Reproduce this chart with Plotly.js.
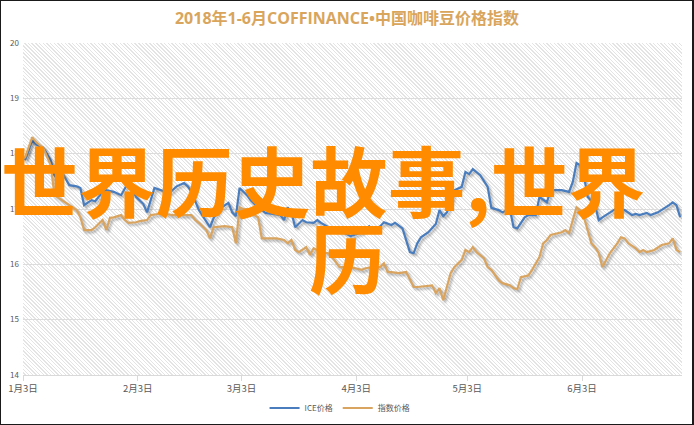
<!DOCTYPE html>
<html>
<head>
<meta charset="utf-8">
<script src="https://cdn.plot.ly/plotly-3.0.1.min.js"></script>
<style>
  html, body { margin: 0; padding: 0; background: #ffffff; }
  #wrap { position: relative; width: 694px; height: 425px; overflow: hidden; background: #fff; }
  #hatch { position: absolute; left: 23px; top: 43px; width: 659px; height: 332px;
    background: repeating-linear-gradient(45deg, #ffffff 0px, #ffffff 1.2px, #e4e4e4 1.2px, #e4e4e4 2.2px, #ffffff 2.2px, #ffffff 2.6px); }
  #chart { position: absolute; left: 0; top: 0; width: 694px; height: 425px; }
  #frame { position: absolute; left: 0; top: 0; width: 694px; height: 425px; box-sizing: border-box;
    border: 1px solid #1a1a1a; border-right-width: 2px; pointer-events: none; z-index: 5; }
  .wm { position: absolute; white-space: nowrap; color: #ff8c00; font-family: "Noto Sans CJK SC", sans-serif;
    font-weight: 700; font-size: 77px; line-height: 77px; z-index: 4; pointer-events: none; }
  #chart .scatterlayer .trace path.js-line { filter: drop-shadow(2px 2px 1.2px rgba(0,0,0,0.3)); }
</style>
</head>
<body>
<div id="wrap">
  <div id="hatch"></div>
  <div id="chart"></div>
  <div class="wm" id="wm1" style="left:1px; top:140px; letter-spacing:0.4px;">世界历史故事,世界</div>
  <div class="wm" id="wm2" style="left:309px; top:217px;">历</div>
  <div id="frame"></div>
</div>
<script>
// ---- data ----
const chartTitle = "2018年1-6月COFFINANCE•中国咖啡豆价格指数";
const seriesNames = ["ICE价格", "指数价格"];

const iceDates = [
 "01-03","01-05","01-06","01-08","01-10","01-11","01-12","01-13","01-15","01-17","01-18","01-19","01-21","01-22","01-24","01-25","01-27","01-29","01-31",
 "02-02","02-04","02-05","02-07","02-09","02-11","02-13","02-15","02-16","02-17","02-19","02-22","02-23","02-25","02-27","02-28",
 "03-01","03-02","03-04","03-05","03-07","03-09","03-11","03-13","03-14","03-15","03-16","03-17","03-19","03-20","03-22","03-23","03-24","03-26","03-28","03-30",
 "04-01","04-02","04-04","04-06","04-07","04-09","04-10","04-12","04-13","04-15","04-16","04-17","04-18","04-19","04-20","04-22","04-24","04-25","04-26","04-27","04-28","04-29",
 "05-01","05-02","05-03","05-04","05-06","05-08","05-09","05-11","05-12","05-14","05-15","05-16","05-18","05-19","05-21","05-22","05-24","05-25","05-26","05-28","05-30","05-31",
 "06-01","06-02","06-03","06-04","06-06","06-07","06-08","06-10","06-12","06-14","06-16","06-17","06-18","06-20","06-21","06-23","06-25","06-26","06-27","06-28","06-29"
];
const iceValues = [
 17.88,18.25,18.17,18.10,17.88,17.61,17.52,17.67,17.43,17.41,17.38,17.07,17.16,17.14,17.31,17.34,17.31,17.25,17.49,
 17.22,17.09,16.94,17.38,17.34,17.29,17.41,17.47,17.41,17.31,16.98,16.67,16.84,17.02,17.11,16.94,
 16.87,17.38,17.25,17.16,17.03,16.93,16.91,16.89,16.80,17.03,16.94,16.67,16.80,16.76,16.75,16.80,16.75,16.67,16.62,16.58,
 16.51,16.53,16.58,16.69,16.62,16.69,16.76,16.71,16.75,16.65,16.44,16.22,16.20,16.38,16.49,16.58,16.73,16.98,16.87,16.94,17.11,17.34,
 17.40,17.67,17.63,17.72,17.61,17.40,17.02,16.98,16.94,17.00,16.67,16.65,16.85,16.89,16.89,17.22,17.12,17.34,17.34,17.34,17.31,17.49,
 17.83,17.79,17.61,17.22,17.07,16.80,16.85,16.94,17.02,16.98,16.89,16.91,16.89,16.93,16.89,16.94,17.02,17.07,17.12,17.07,16.85
];

const idxDates = [
 "01-03","01-05","01-06","01-08","01-10","01-11","01-13","01-15","01-17","01-18","01-19","01-21","01-22","01-24","01-25","01-26","01-27","01-29","01-30","01-31",
 "02-02","02-03","02-05","02-06","02-08","02-10","02-12","02-14","02-17","02-18","02-19","02-21","02-22","02-23","02-25","02-26","02-28",
 "03-01","03-02","03-03","03-04","03-05","03-07","03-08","03-09","03-12","03-14","03-15","03-16","03-17","03-18","03-20","03-21","03-22","03-24","03-26","03-27","03-29","03-30",
 "04-01","04-04","04-05","04-07","04-09","04-10","04-11","04-12","04-14","04-16","04-17","04-18","04-19","04-22","04-23","04-24","04-25","04-26","04-27","04-28","04-29",
 "05-01","05-02","05-03","05-04","05-05","05-07","05-08","05-09","05-11","05-12","05-14","05-15","05-16","05-17","05-19","05-20","05-22","05-23","05-24","05-25","05-27","05-28","05-29","05-30","05-31",
 "06-01","06-02","06-03","06-04","06-05","06-06","06-07","06-08","06-09","06-10","06-12","06-13","06-14","06-15","06-17","06-18","06-19","06-20","06-22","06-24","06-26","06-27","06-28","06-29"
];
const idxValues = [
 17.92,18.30,18.21,18.10,17.79,17.25,17.16,17.07,16.98,16.85,16.62,16.62,16.67,16.80,16.62,16.84,16.85,16.89,16.80,16.75,
 16.76,16.78,16.80,16.89,16.91,16.91,16.89,16.89,16.89,16.80,16.75,16.62,16.47,16.67,16.69,16.69,16.67,
 16.38,17.03,17.00,17.00,16.93,16.85,16.47,16.47,16.47,16.44,16.38,16.44,16.26,16.22,16.31,16.17,16.29,16.22,16.20,16.13,15.95,15.95,
 15.95,15.90,15.93,15.95,15.95,16.02,15.86,15.86,15.84,15.86,15.71,15.59,15.59,15.62,15.62,15.48,15.57,15.35,15.59,15.84,15.95,
 16.08,16.26,16.22,16.31,16.22,16.11,15.95,15.90,15.71,15.66,15.62,15.57,15.55,15.77,15.80,15.90,16.13,16.38,16.44,16.53,16.56,16.58,16.62,16.56,16.80,
 17.03,16.98,16.85,16.62,16.38,16.31,16.20,15.95,16.08,16.20,16.38,16.49,16.47,16.38,16.29,16.22,16.26,16.22,16.26,16.35,16.38,16.47,16.26,16.22
];

const xTickDates = ["2018-01-03","2018-02-03","2018-03-03","2018-04-03","2018-05-03","2018-06-03"];
const xTickLabels = ["1月3日","2月3日","3月3日","4月3日","5月3日","6月3日"];
const yTickValues = [14,15,16,17,18,19,20];

// ---- build chart ----
const toDate = d => "2018-" + d + " 12:00";
const traces = [
  { type: "scatter", mode: "lines", name: seriesNames[0], x: iceDates.map(toDate), y: iceValues,
    line: { color: "#4a7dbd", width: 2.2 }, hoverinfo: "skip" },
  { type: "scatter", mode: "lines", name: seriesNames[1], x: idxDates.map(toDate), y: idxValues,
    line: { color: "#d9a45f", width: 2.2 }, hoverinfo: "skip" }
];

const layout = {
  width: 694, height: 425,
  margin: { l: 23, r: 12, t: 43, b: 50, autoexpand: false },
  paper_bgcolor: "rgba(0,0,0,0)",
  plot_bgcolor: "rgba(0,0,0,0)",
  font: { family: "'Noto Sans CJK SC', 'Noto Sans', sans-serif", color: "#595959" },
  title: { text: chartTitle, x: 0.5, xanchor: "center", y: 0.957, yanchor: "middle",
    font: { size: 16, color: "#d9a55c", family: "'Open Sans', 'Noto Sans CJK SC', sans-serif", weight: 700 } },
  xaxis: {
    type: "date", range: ["2018-01-03", "2018-06-30"],
    tickvals: xTickDates, ticktext: xTickLabels,
    showgrid: false, showline: true, linecolor: "#d9d9d9", linewidth: 1,
    ticks: "outside", ticklen: 5, tickcolor: "#d9d9d9",
    tickfont: { size: 9.5, color: "#595959" }, zeroline: false
  },
  yaxis: {
    range: [14, 20], tickvals: yTickValues,
    showgrid: true, gridcolor: "#dcdcdc", gridwidth: 1, zeroline: false,
    showline: false, ticks: "", ticklabelstandoff: 3,
    tickfont: { size: 8, color: "#595959" }
  },
  showlegend: true,
  legend: { orientation: "h", x: 0.49, xanchor: "center", xref: "container",
    y: 0.04, yanchor: "middle", yref: "container",
    font: { size: 8, color: "#595959" }, itemwidth: 30, tracegroupgap: 0 }
};

Plotly.newPlot("chart", traces, layout, { staticPlot: true, displayModeBar: false });
</script>
</body>
</html>
